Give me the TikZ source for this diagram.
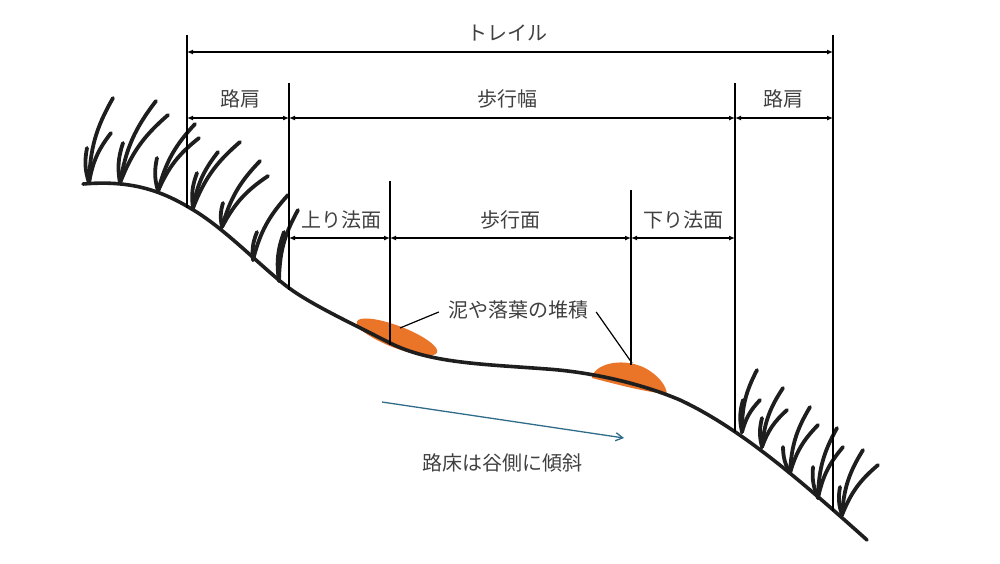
\documentclass[tikz,border=0pt]{standalone}
\usepackage{fontspec}
\newfontfamily\jp{Noto Sans CJK JP}
\usetikzlibrary{arrows.meta,calc}
\definecolor{mudc}{RGB}{234,116,40}
\definecolor{flowc}{RGB}{47,108,138}
\definecolor{txtc}{RGB}{64,64,64}
\definecolor{inkc}{RGB}{30,30,30}
\tikzset{
  lbl/.style={font=\jp\fontsize{20}{24}\selectfont, text=txtc, inner sep=0pt},
  dimline/.style={line width=1.4pt, {Latex[length=6pt,width=5pt]}-{Latex[length=6pt,width=5pt]}},
  guide/.style={line width=1.4pt},
  groundline/.style={line width=3.6pt, inkc, line cap=round},
  blade/.style={line width=3.8pt, inkc, line cap=round},
  leader/.style={line width=1.2pt},
  flow/.style={line width=1.3pt, flowc, -{Straight Barb[length=7pt,width=8pt]}},
}
\newcommand\grass[3]{\foreach \tx/\ty in {#3} {\draw[blade] (#1,#2) to[bend left=14] (\tx,\ty);}}
\begin{document}
\begin{tikzpicture}[x=1pt,y=-1pt]
\useasboundingbox (0,0) rectangle (1000,563);
% mud deposits
\fill[mudc, rotate around={-21:(397,337)}] (397,337) ellipse [x radius=43, y radius=11];
\fill[mudc] (592,376) .. controls (598,362) and (625,358) .. (645,368) .. controls (658,375) and (666,385) .. (667,394) .. controls (645,392) and (615,384) .. (592,378) -- cycle;
% ground
\draw[groundline] (83,184) .. controls (130,180) and (160,190) .. (190,208)
  .. controls (225,228) and (262,268) .. (289,288)
  .. controls (312,305) and (355,325) .. (390,343)
  .. controls (430,363) and (480,364) .. (547,369)
  .. controls (590,372) and (640,383) .. (680,400)
  .. controls (740,428) and (800,480) .. (867,540);
% grass left
\grass{89}{183}{113/98,111/133,87/148}
\grass{120}{183}{156/101,168/115,123/143}
\grass{158}{191}{195/124,199/138,157/158}
\grass{193}{208}{240/142,218/152,197/173}
\grass{222}{227}{268/176,260/161,223/203}
\grass{253}{260}{288/195,257/232}
\grass{279}{281}{284/232,298/210}
% grass right
\grass{742}{432}{757/370,760/400,743/400}
\grass{762}{447}{783/388,787/410,762/418}
\grass{790}{473}{810/407,818/425,783/447}
\grass{818}{498}{837/428,843/447,813/467}
\grass{842}{515}{863/450,878/465,840/487}
% guide verticals
\coordinate (v1t) at (187,35);  \coordinate (v1b) at (187,208);
\coordinate (v2t) at (289,83);  \coordinate (v2b) at (289,290);
\coordinate (v3t) at (390,181); \coordinate (v3b) at (390,345);
\coordinate (v4t) at (631,190); \coordinate (v4b) at (631,365);
\coordinate (v5t) at (735,83);  \coordinate (v5b) at (735,432);
\coordinate (v6t) at (833,35);  \coordinate (v6b) at (833,511);
\draw[guide] (v1t) -- (v1b);
\draw[guide] (v2t) -- (v2b);
\draw[guide] (v3t) -- (v3b);
\draw[guide] (v4t) -- (v4b);
\draw[guide] (v5t) -- (v5b);
\draw[guide] (v6t) -- (v6b);
% dimension lines
\coordinate (a1) at (187,52); \coordinate (b1) at (833,52);
\coordinate (a2) at (187,118); \coordinate (b2) at (289,118); \coordinate (c2) at (735,118); \coordinate (d2) at (833,118);
\coordinate (a3) at (289,238); \coordinate (b3) at (390,238); \coordinate (c3) at (631,238); \coordinate (d3) at (735,238);
\draw[dimline] (a1) -- (b1);
\draw[dimline] (a2) -- (b2);
\draw[dimline] (b2) -- (c2);
\draw[dimline] (c2) -- (d2);
\draw[dimline] (a3) -- (b3);
\draw[dimline] (b3) -- (c3);
\draw[dimline] (c3) -- (d3);
% labels
\node[lbl] (trail) at (507,33) {トレイル};
\node[lbl] (kata1) at (240,99) {路肩};
\node[lbl] (hokoh) at (507,99) {歩行幅};
\node[lbl] (kata2) at (783,99) {路肩};
\node[lbl] (nori1) at (341,220) {上り法面};
\node[lbl] (hokom) at (510,220) {歩行面};
\node[lbl] (nori2) at (683,220) {下り法面};
\node[lbl] (mud) at (518,310) {泥や落葉の堆積};
\node[lbl] (slope) at (502,463) {路床は谷側に傾斜};
% leaders
\coordinate (m1) at (400,328);
\coordinate (m2) at (632,363);
\draw[leader] ([xshift=-9pt,yshift=-2pt]mud.west) -- (m1);
\draw[leader] ([xshift=8pt,yshift=-2pt]mud.east) -- (m2);
% flow arrow
\coordinate (f1) at (382,402);
\coordinate (f2) at (624,438);
\draw[flow] (f1) -- (f2);
\end{tikzpicture}
\end{document}
